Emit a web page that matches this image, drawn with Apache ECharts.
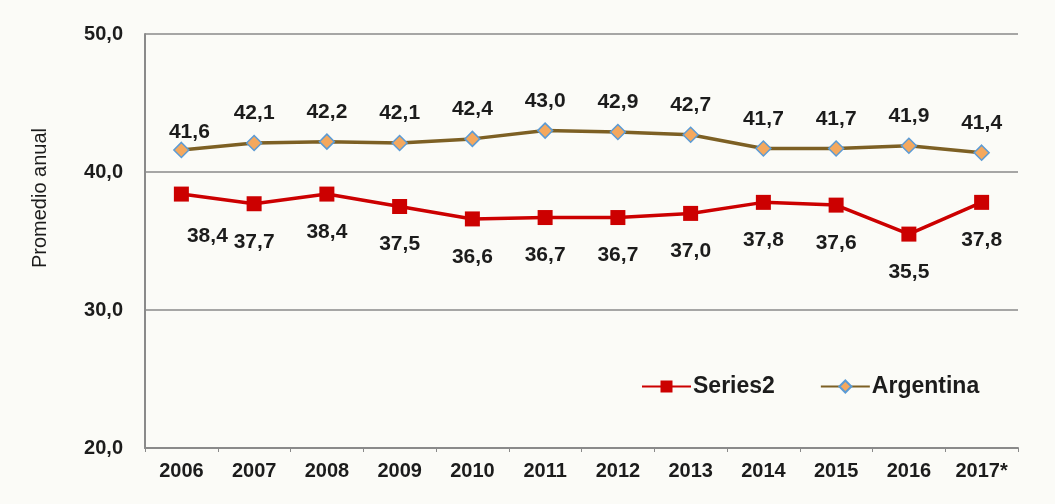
<!DOCTYPE html>
<html>
<head>
<meta charset="utf-8">
<script src="https://cdn.jsdelivr.net/npm/echarts@6/dist/echarts.min.js"></script>
<style>
  html, body { margin: 0; padding: 0; background: #fbfbf7; }
  #chart { width: 1055px; height: 504px; }
</style>
</head>
<body>
<div id="chart"></div>
<script>
// Annual averages by year
const years = ['2006', '2007', '2008', '2009', '2010', '2011', '2012', '2013', '2014', '2015', '2016', '2017*'];
const series2 = [38.4, 37.7, 38.4, 37.5, 36.6, 36.7, 36.7, 37.0, 37.8, 37.6, 35.5, 37.8];
const argentina = [41.6, 42.1, 42.2, 42.1, 42.4, 43.0, 42.9, 42.7, 41.7, 41.7, 41.9, 41.4];
const yTicks = [20, 30, 40, 50];

const fmt = v => v.toFixed(1).replace('.', ',');
const FONT = 'Liberation Sans, Arial, sans-serif';

const labelStyle = {
  fontFamily: FONT,
  fontSize: 21,
  fontWeight: 'bold',
  color: '#1c1c1c',
  formatter: p => fmt(p.value)
};

const chart = echarts.init(document.getElementById('chart'));
chart.setOption({
  backgroundColor: '#fbfbf7',
  animation: false,
  grid: { left: 145, right: 37, top: 34, bottom: 56 },
  // Vertical axis title, placed a little above the plot's centre
  graphic: [{
    type: 'text',
    rotation: Math.PI / 2,
    x: 40,
    y: 198,
    style: {
      text: 'Promedio anual',
      fontFamily: FONT,
      fontSize: 20,
      fill: '#1c1c1c',
      align: 'center',
      verticalAlign: 'middle'
    }
  }],
  legend: {
    left: 636,
    top: 370,
    itemWidth: 49,
    itemHeight: 15,
    itemGap: 45,
    textStyle: { fontFamily: FONT, fontSize: 23, fontWeight: 'bold', color: '#1c1c1c', padding: [0, 0, 0, -3] },
    data: ['Series2', 'Argentina']
  },
  xAxis: {
    type: 'category',
    data: years,
    boundaryGap: true,
    axisLine: { lineStyle: { color: '#8a8a8a', width: 2 } },
    axisTick: { show: true, length: 4, lineStyle: { color: '#8a8a8a' } },
    axisLabel: { fontFamily: FONT, fontSize: 20, fontWeight: 'bold', color: '#1c1c1c', margin: 13 }
  },
  yAxis: {
    type: 'value',
    min: yTicks[0],
    max: yTicks[yTicks.length - 1],
    interval: 10,
    axisLine: { show: true, lineStyle: { color: '#8a8a8a', width: 2 } },
    axisTick: { show: false },
    splitLine: { lineStyle: { color: '#8a8a8a', width: 1.5 } },
    axisLabel: { fontFamily: FONT, fontSize: 20, fontWeight: 'bold', color: '#1c1c1c', margin: 22, formatter: v => fmt(v) }
  },
  series: [
    {
      name: 'Series2',
      type: 'line',
      data: series2.map((v, i) => i === 0
        ? { value: v, label: { offset: [26, 4] } }
        : v),
      symbol: 'rect',
      symbolSize: 15,
      lineStyle: { color: '#cc0000', width: 3.5 },
      itemStyle: { color: '#cc0000' },
      label: Object.assign({ show: true, position: 'bottom', distance: 20 }, labelStyle),
      z: 3
    },
    {
      name: 'Argentina',
      type: 'line',
      data: argentina.map((v, i) => i === 0
        ? { value: v, label: { offset: [8, 12] } }
        : v),
      symbol: 'diamond',
      symbolSize: 15,
      lineStyle: { color: '#7d6024', width: 3.5 },
      itemStyle: { color: '#f4a85e', borderColor: '#5b9bd5', borderWidth: 1.5 },
      label: Object.assign({ show: true, position: 'top', distance: 11 }, labelStyle),
      z: 4
    }
  ]
});
</script>
</body>
</html>
